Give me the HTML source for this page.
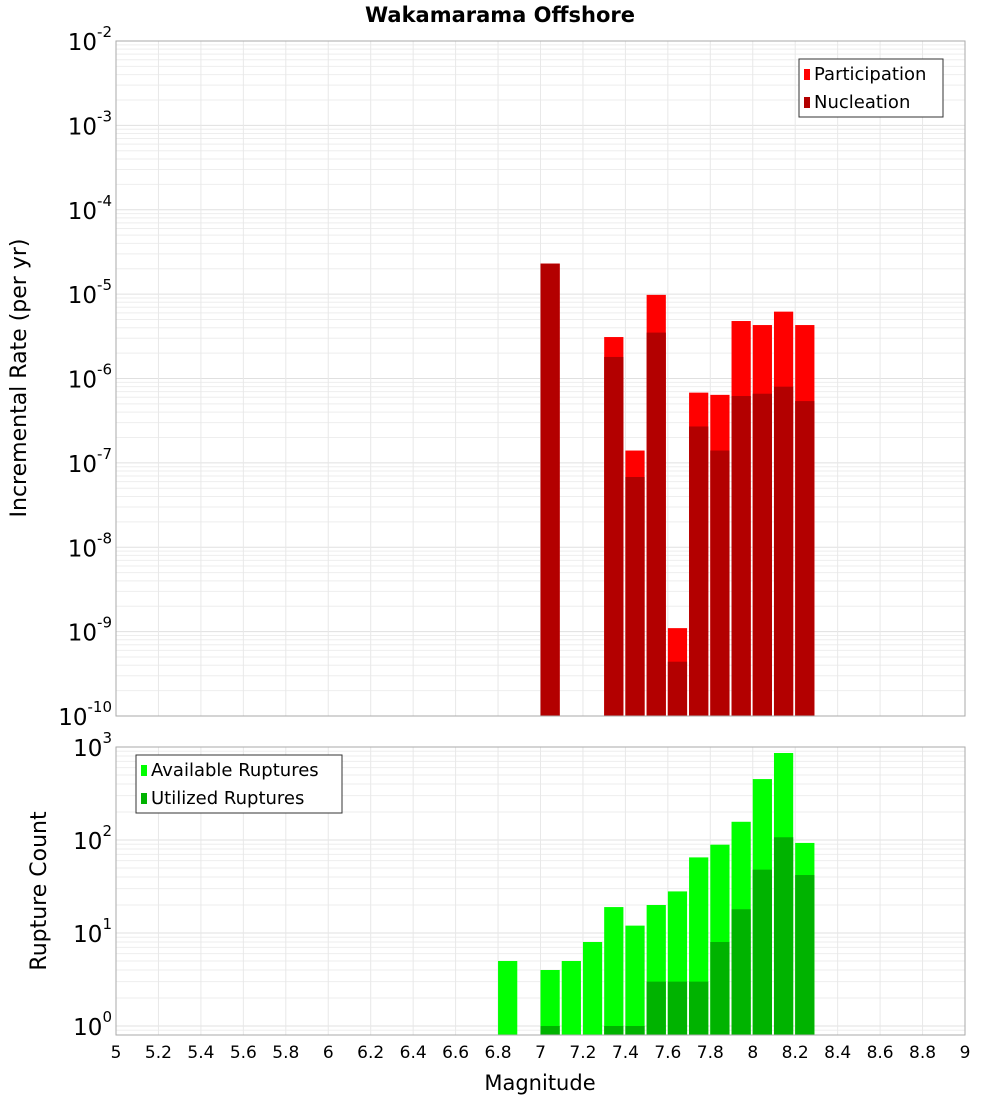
<!DOCTYPE html>
<html><head><meta charset="utf-8"><style>
body{margin:0;background:#fff;font-family:"DejaVu Sans","Liberation Sans",sans-serif;}
svg{display:block}
</style></head><body>
<svg id="c" width="1000" height="1100" xmlns="http://www.w3.org/2000/svg"></svg>
<script>
const mags = [6.8,7.0,7.1,7.2,7.3,7.4,7.5,7.6,7.7,7.8,7.9,8.0,8.1,8.2];
const partMags = [7.0,7.3,7.4,7.5,7.6,7.7,7.8,7.9,8.0,8.1,8.2];
const participation = [2.3e-5,3.1e-6,1.4e-7,9.8e-6,1.1e-9,6.8e-7,6.4e-7,4.8e-6,4.3e-6,6.2e-6,4.3e-6];
const nucleation = [2.3e-5,1.8e-6,6.8e-8,3.5e-6,4.4e-10,2.7e-7,1.4e-7,6.2e-7,6.6e-7,8.0e-7,5.4e-7];
const available = [5,4,5,8,19,12,20,28,65,89,157,452,862,93];
const utilized = [0,1,0,0,1,1,3,3,3,8,18,48,107,42];
const xTicks = [5,5.2,5.4,5.6,5.8,6,6.2,6.4,6.6,6.8,7,7.2,7.4,7.6,7.8,8,8.2,8.4,8.6,8.8,9];
const topExps = [-10,-9,-8,-7,-6,-5,-4,-3,-2];
const botExps = [0,1,2,3];

const NS="http://www.w3.org/2000/svg";
const svg=document.getElementById('c');
function mk(tag,attrs,parent){const e=document.createElementNS(NS,tag);for(const k in attrs)e.setAttribute(k,attrs[k]);(parent||svg).appendChild(e);return e;}
const X0=116,X1=965;
const x=m=>X0+(m-5)/4*(X1-X0);
const T0=41,T1=716, yTop=v=>T0+(-2-Math.log10(v))/8*(T1-T0);
const B0=747,B1=1035, BMIN=0.8,BMAX=1000;
const yBot=v=>B0+(Math.log10(BMAX)-Math.log10(v))/(Math.log10(BMAX)-Math.log10(BMIN))*(B1-B0);

function grid(y0,y1,yf,lo,hi){
  for(let e=lo;e<=hi;e++)for(let k=1;k<10;k++){const v=k*Math.pow(10,e);const yy=yf(v);if(yy<y0-0.5||yy>y1+0.5)continue;
    const l=mk('line',{x1:X0,x2:X1,y1:yy,y2:yy,stroke:k==1?'#e0e0e0':'#eeeeee','stroke-width':1});
    }
  xTicks.forEach(t=>{const l=mk('line',{x1:x(t),x2:x(t),y1:y0,y2:y1,stroke:'#e8e8e8'});
    });
}
grid(T0,T1,yTop,-10,-3);
grid(B0,B1,yBot,-1,2);

const bw=x(5.1)-x(5)-2;
partMags.forEach((m,i)=>{
  const r=mk('rect',{x:x(m),y:yTop(participation[i]),width:bw,height:T1-yTop(participation[i]),fill:'#ff0000'});
  
  const n=mk('rect',{x:x(m),y:yTop(nucleation[i]),width:bw,height:T1-yTop(nucleation[i]),fill:'#b30000'});
  
});
mags.forEach((m,i)=>{
  const a=mk('rect',{x:x(m),y:yBot(available[i]),width:bw,height:B1-yBot(available[i]),fill:'#00ff00'});
  
  if(utilized[i]>0){const u=mk('rect',{x:x(m),y:yBot(utilized[i]),width:bw,height:B1-yBot(utilized[i]),fill:'#00b300'});
  }
});
mk('rect',{x:X0,y:T0,width:X1-X0,height:T1-T0,fill:'none',stroke:'#aaa'});
mk('rect',{x:X0,y:B0,width:X1-X0,height:B1-B0,fill:'none',stroke:'#aaa'});

function pow(exp,yy,name){
  const t=mk('text',{x:112,y:yy+9,'text-anchor':'end','font-size':23,fill:'#000'});
  
  const s=String(exp);
  t.innerHTML='10<tspan dy="-13" font-size="15">'+s+'</tspan>';
}
topExps.forEach(e=>pow(e,yTop(Math.pow(10,e)),'y-tick-label'));
botExps.forEach(e=>pow(e,yBot(Math.pow(10,e)),'y-tick-label'));
xTicks.forEach(t=>{const tx=mk('text',{x:x(t),y:1058,'text-anchor':'middle','font-size':17});tx.textContent=String(t);
  });

function txt(s,a,name){const t=mk('text',a);t.textContent=s;return t;}
txt('Wakamarama Offshore',{x:500,y:22,'text-anchor':'middle','font-size':21,'font-weight':'bold'},'chart-title');
txt('Magnitude',{x:540,y:1090,'text-anchor':'middle','font-size':21},'x-axis-title');
txt('Incremental Rate (per yr)',{x:0,y:0,'text-anchor':'middle','font-size':22,transform:'translate(26,378) rotate(-90)'},'y-axis-title-top');
txt('Rupture Count',{x:0,y:0,'text-anchor':'middle','font-size':22,transform:'translate(46,891) rotate(-90)'},'y-axis-title-bottom');

function legend(lx,ly,w,items,name){
  const g=mk('g',{});
  mk('rect',{x:lx,y:ly,width:w,height:58,fill:'#fff',stroke:'#333'},g);
  items.forEach((it,i)=>{
    mk('rect',{x:lx+5,y:ly+10+i*28,width:6,height:11,fill:it[1]},g);
    const t=mk('text',{x:lx+15,y:ly+21+i*28,'font-size':18},g);t.textContent=it[0];
    
  });
}
legend(799,59,144,[['Participation','#ff0000'],['Nucleation','#b30000']],'legend-top');
legend(136,755,206,[['Available Ruptures','#00ff00'],['Utilized Ruptures','#00b300']],'legend-bottom');
</script>
</body></html>
